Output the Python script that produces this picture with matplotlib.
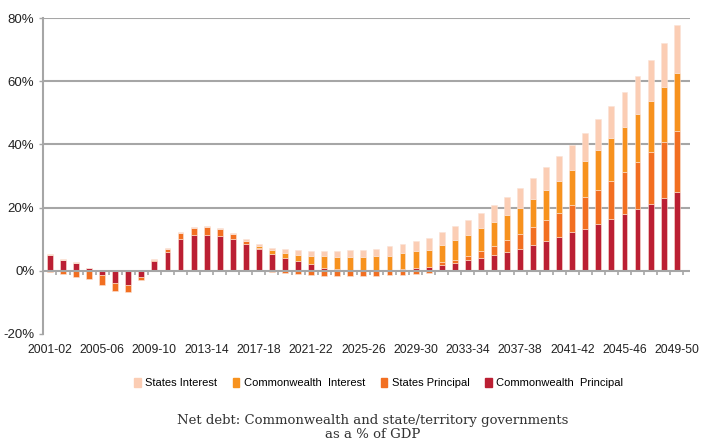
import numpy as np
import matplotlib
matplotlib.use("Agg")
import matplotlib.pyplot as plt
from matplotlib.patches import Patch

# data (% of GDP)
years = [f"{y}-{(y + 1) % 100:02d}" for y in range(2001, 2050)]

comm_principal = [5.0, 3.4, 2.3, 0.7, -1.4, -3.9, -4.5, -2.0, 3.2, 5.8,
                  10.0, 11.3, 11.3, 11.0, 10.0, 8.4, 6.8, 5.4, 3.9, 3.0,
                  2.0, 1.0, 0.6, 0.2, 0.1, 0.1, 0.2, 0.5, 0.7, 1.1,
                  1.7, 2.4, 3.3, 4.0, 4.9, 6.0, 6.9, 8.2, 9.4, 10.6,
                  12.1, 13.3, 14.7, 16.3, 17.9, 19.6, 21.1, 22.9, 24.8]
states_principal = [-0.4, -1.1, -1.9, -2.6, -3.2, -2.5, -2.2, -0.8, 0.3, 1.0,
                    1.8, 2.1, 2.4, 2.1, 1.6, 1.1, 0.4, -0.5, -0.7, -1.0,
                    -1.4, -1.6, -1.7, -1.7, -1.7, -1.8, -1.5, -1.3, -1.0, -0.7,
                    0.9, 0.9, 1.5, 2.3, 3.0, 3.8, 4.8, 5.6, 6.8, 7.8,
                    8.6, 10.1, 10.8, 12.0, 13.5, 14.7, 16.4, 17.7, 19.3]
comm_interest = [0.0, 0.0, 0.0, 0.0, 0.0, 0.0, 0.0, 0.0, 0.0, 0.0,
                 0.0, 0.0, 0.0, 0.0, 0.0, 0.0, 0.5, 1.0, 1.7, 2.1,
                 2.8, 3.5, 3.6, 4.1, 4.2, 4.4, 4.6, 5.0, 5.4, 5.4,
                 5.5, 6.3, 6.5, 7.1, 7.5, 7.8, 8.2, 8.8, 9.3, 9.9,
                 11.1, 11.3, 12.8, 13.6, 14.2, 15.2, 16.1, 17.6, 18.5]
states_interest = [0.2, 0.2, 0.3, 0.3, 0.0, 0.0, 0.0, 0.0, 0.3, 0.3,
                   0.3, 0.3, 0.3, 0.3, 0.3, 0.4, 0.6, 0.9, 1.4, 1.3,
                   1.5, 1.6, 1.9, 2.1, 2.3, 2.5, 2.9, 3.1, 3.4, 3.9,
                   4.0, 4.4, 4.6, 4.9, 5.3, 5.7, 6.4, 6.7, 7.2, 8.0,
                   8.1, 9.0, 9.7, 10.3, 11.1, 12.1, 13.0, 13.9, 15.2]

series = [
    ("Commonwealth  Principal", comm_principal, "#BB1F33"),
    ("States Principal", states_principal, "#F26F21"),
    ("Commonwealth  Interest", comm_interest, "#F7921E"),
    ("States Interest", states_interest, "#FBCDB4"),
]

plt.rcParams['font.family'] = ['Liberation Sans', 'DejaVu Sans']

fig = plt.figure(figsize=(7.01, 4.41), dpi=100)
ax = fig.add_axes([0.061, 0.243, 0.923, 0.716])

x = np.arange(len(years))
pos_bottom = np.zeros(len(years))
neg_bottom = np.zeros(len(years))
for name, vals, col in series:
    v = np.array(vals)
    bottom = np.where(v >= 0, pos_bottom, neg_bottom)
    ax.bar(x, v, width=0.45, bottom=bottom, color=col,
           edgecolor="#FBE3D6", linewidth=0.4, zorder=3)
    pos_bottom += np.where(v >= 0, v, 0)
    neg_bottom += np.where(v < 0, v, 0)

ax.set_xlim(-0.55, 49.0)
ax.set_ylim(-20, 80)
ax.set_yticks([-20, 0, 20, 40, 60, 80])
ax.set_yticklabels([f"{t}%" for t in [-20, 0, 20, 40, 60, 80]])
for gy in [20, 40, 60, 80]:
    ax.axhline(gy, color="#A6A6A6", lw=1.5, zorder=1)
ax.axhline(0, color="#A6A6A6", lw=1.5, zorder=4)
# tick marks between categories on the zero line
ax.vlines(np.arange(-0.5, 49, 1), -1.3, 0, color="#A6A6A6", lw=1.2, zorder=4)

ax.set_xticks(x[::4])
ax.set_xticklabels(years[::4])
ax.tick_params(axis="x", length=0, pad=7, labelsize=8.7, colors="#222222")
ax.tick_params(axis="y", length=3, width=1, color="#A6A6A6", labelsize=9.5,
               labelcolor="#222222", pad=3)
for s in ["top", "right", "bottom"]:
    ax.spines[s].set_visible(False)
ax.spines["left"].set_color("#A6A6A6")
ax.spines["left"].set_linewidth(1.5)

handles = [Patch(color=c, label=n) for n, v, c in reversed(series)]
fig.legend(handles=handles, loc="center", bbox_to_anchor=(0.54, 0.131), ncol=4,
           frameon=False, fontsize=8, handlelength=0.6, handleheight=0.9,
           handletextpad=0.4, columnspacing=1.4)

fig.text(0.531, 0.03, "Net debt: Commonwealth and state/territory governments\nas a % of GDP",
         ha="center", va="center", family="DejaVu Serif", fontsize=9.5,
         color="#333333", linespacing=1.1)

fig.savefig("out.png", dpi=100)
